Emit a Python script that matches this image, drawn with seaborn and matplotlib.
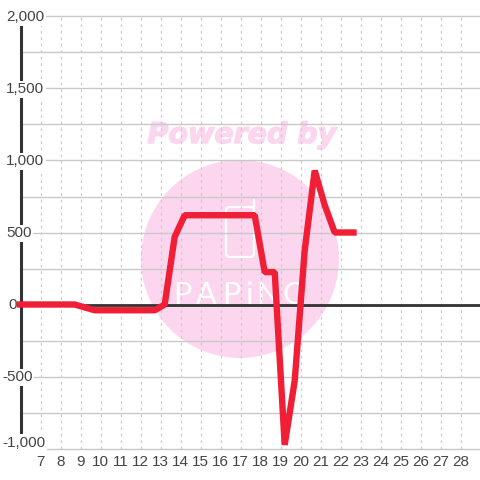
import matplotlib
matplotlib.use("Agg")
import matplotlib.pyplot as plt
import matplotlib.patheffects as pe
from matplotlib.patches import Circle, FancyBboxPatch
from matplotlib.transforms import IdentityTransform
import pandas as pd
import seaborn as sns

# Data
days = [5.8, 8.7, 9.7, 12.7, 13.2, 13.7, 14.2, 17.7, 18.2, 18.7, 19.2, 19.7, 20.2, 20.7, 21.2, 21.7, 22.8]
values = [0, 0, -40, -40, 0, 470, 620, 620, 225, 225, -975, -530, 375, 930, 690, 500, 500]
x_ticks = list(range(7, 29))
y_major = [-1000, -500, 0, 500, 1000, 1500, 2000]
y_grid = list(range(-1000, 2001, 250))
y_labels = ["-1,000", "-500", "0", "500", "1,000", "1,500", "2,000"]
logo_letters = ["P", "A", "P", "i", "N", "C"]
logo_centres = [182, 206, 231, 249, 268, 293]

sns.set_theme(style="white")
plt.rcParams["font.family"] = ["Liberation Sans", "DejaVu Sans"]

fig = plt.figure(figsize=(4.8, 4.8), dpi=100)
W = H = 480.0
ax = fig.add_axes([20.7 / W, 1 - 448.5 / H, (480.7 - 20.7) / W, (448.5 - 16.5) / H])
ax.set_xlim(6, 29)
ax.set_ylim(-1000, 2000)
ax.patch.set_alpha(0)
for s in ax.spines.values():
    s.set_visible(False)

for v in y_grid:
    ax.axhline(v, color="#c9c9c9", lw=1.0, zorder=1, clip_on=False)
for d in x_ticks:
    ax.axvline(d, color="#cccccc", lw=0.9, ls=(0, (2.2, 3.0)), zorder=1)
ax.axhline(0, color="#333333", lw=2.0, zorder=2)
ax.axvline(6, color="#333333", lw=2.2, zorder=2, clip_on=False)

# Watermark, placed in picture pixels
px = IdentityTransform()
ax.add_patch(Circle((240, H - 259), 99, transform=px, facecolor="#fbd6ee", edgecolor="none", zorder=0.5, clip_on=False))
ax.add_patch(FancyBboxPatch((226, H - 257), 28, 50, boxstyle="round,pad=0,rounding_size=4", transform=px,
                            facecolor="none", edgecolor="white", lw=1.6, zorder=0.6, clip_on=False))
ax.plot([248, 254, 254], [H - 207, H - 207, H - 200], transform=px, color="white", lw=1.6, zorder=0.6,
        solid_capstyle="round", clip_on=False, scalex=False, scaley=False)
fig.text(242 / W, 1 - 135 / H, "Powered by", color="#fbd6ee", fontsize=20.5, family="DejaVu Sans",
         fontweight="bold", fontstyle="oblique", ha="center", va="center", zorder=-1,
         path_effects=[pe.withStroke(linewidth=1.0, foreground="#fbd6ee")])
for ch, cx in zip(logo_letters, logo_centres):
    ax.text(cx, H - 304, ch, transform=px, color="white", fontsize=22, family="Lato",
            ha="center", va="baseline", zorder=0.6, clip_on=False)

df = pd.DataFrame({"day": days, "value": values})
sns.lineplot(data=df, x="day", y="value", ax=ax, color="#f01f36", linewidth=4.6, sort=False, errorbar=None,
             solid_joinstyle="bevel", solid_capstyle="butt", zorder=5, clip_on=False)
ax.set_xlabel("")
ax.set_ylabel("")
ax.set_xticks(x_ticks)
ax.set_xticklabels([str(d) for d in x_ticks], fontsize=11, color="#444444")
ax.set_yticks([])
ax.tick_params(axis="x", length=0, pad=4.5)

bbox = dict(facecolor="white", edgecolor="none", pad=1.2)
for v, lab in zip(y_major, y_labels):
    dy = 5.5 if v == -1000 else -0.8
    lx = 2 if lab.startswith("-") else (8 if lab == "0" else 6)
    ax.annotate(lab, xy=(6, v), xycoords="data", xytext=((lx - 20.7) * 0.72, dy * 0.72), textcoords="offset points",
                ha="left", va="center", fontsize=11, color="#444444", bbox=bbox, zorder=4, annotation_clip=False)

fig.savefig("out.png", dpi=100)
